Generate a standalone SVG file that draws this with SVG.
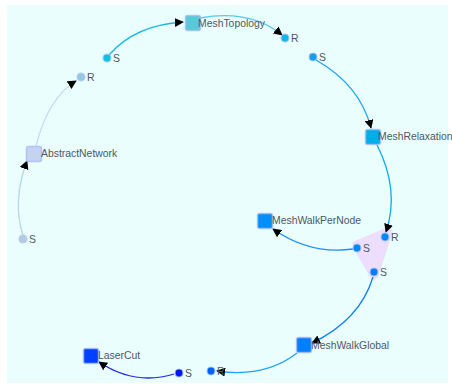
<svg xmlns="http://www.w3.org/2000/svg" width="452" height="387" viewBox="0 0 452 387">
<defs>
<marker id="arr" viewBox="0 0 10 10" refX="9" refY="5" markerWidth="9" markerHeight="9" markerUnits="userSpaceOnUse" orient="auto">
<path d="M0,0 L10,5 L0,10 z" fill="#000"/>
</marker>
<style>
.bg{fill:#eafefe}
.e{fill:none;stroke-width:1.3;marker-end:url(#arr)}
.n{stroke:#a8bcf4;stroke-width:1.5;stroke-opacity:0.8}
.p{stroke:#b8c8f4;stroke-width:1.2;stroke-opacity:0.8}
text{font-family:"Liberation Sans",Arial,sans-serif;font-size:10.4px;fill:#505664}
</style>
</defs>
<rect class="bg" x="7" y="5" width="441" height="378"/>
<g id="group-1">
<path d="M357,245 L388,232 L374,275 Z" fill="#ecdefc" stroke="#ecdefc" stroke-width="9" stroke-linejoin="round"/>
</g>
<g id="connectors">
<path class="e" stroke="#b4d6f0" d="M23,236 Q12,200 27,161"/>
<path class="e" stroke="#c4daf8" d="M36,146 Q48,98 76,81"/>
<path class="e" stroke="#18bce2" d="M109,55 Q135,25 183,22"/>
<path class="e" stroke="#58cae8" d="M200,18 Q250,9 282,35"/>
<path class="e" stroke="#10a8f0" d="M316,60 Q360,85 371,128"/>
<path class="e" stroke="#10a8f0" d="M377,145 Q400,190 386,232"/>
<path class="e" stroke="#1890f8" d="M353,249 Q310,255 273,229"/>
<path class="e" stroke="#1080f8" d="M373,277 Q360,320 312,343"/>
<path class="e" stroke="#20a0ff" d="M297,353 Q265,378 217,371"/>
<path class="e" stroke="#2424e8" d="M174,374 Q135,386 99,362"/>
</g>
<g id="MeshTopology">
<rect class="n" x="185.5" y="15.5" width="15" height="15" rx="2" fill="#5ac8d8"/>
<text x="198" y="27">MeshTopology</text>
</g>
<g id="AbstractNetwork">
<rect class="n" x="26.5" y="146.5" width="15" height="15" rx="2" fill="#c4d4f0" stroke="#c8d8f8"/>
<text x="41" y="157">AbstractNetwork</text>
</g>
<g id="MeshRelaxation">
<rect class="n" x="365.5" y="129.5" width="15" height="15" rx="2" fill="#00aee8"/>
<text x="378" y="140">MeshRelaxation</text>
</g>
<g id="MeshWalkPerNode">
<rect class="n" x="257.5" y="213.5" width="15" height="15" rx="2" fill="#0090f8"/>
<text x="272" y="224">MeshWalkPerNode</text>
</g>
<g id="MeshWalkGlobal">
<rect class="n" x="296.5" y="337.5" width="15" height="15" rx="2" fill="#0080ff"/>
<text x="311" y="349">MeshWalkGlobal</text>
</g>
<g id="LaserCut">
<rect class="n" x="83.5" y="348.5" width="15" height="15" rx="2" fill="#0040ff"/>
<text x="98" y="359">LaserCut</text>
</g>
<g id="port-S-1"><circle class="p" cx="107" cy="58" r="4" fill="#10c0e0"/><text x="113" y="62">S</text></g>
<g id="port-R-1"><circle class="p" cx="285" cy="38" r="4" fill="#10b8e8"/><text x="291" y="42">R</text></g>
<g id="port-S-2"><circle class="p" cx="313" cy="57" r="4" fill="#10a0f0"/><text x="319" y="61">S</text></g>
<g id="port-R-2"><circle class="p" cx="81" cy="77" r="4" fill="#92c8e0"/><text x="87" y="81">R</text></g>
<g id="port-S-3"><circle class="p" cx="23" cy="239" r="4" fill="#b0cce0"/><text x="29" y="243">S</text></g>
<g id="port-R-3"><circle class="p" cx="385" cy="237" r="4" fill="#0088f8"/><text x="391" y="241">R</text></g>
<g id="port-S-4"><circle class="p" cx="357" cy="248" r="4" fill="#0088f8"/><text x="363" y="252">S</text></g>
<g id="port-S-5"><circle class="p" cx="374" cy="272" r="4" fill="#0080f8"/><text x="380" y="276">S</text></g>
<g id="port-R-4"><circle class="p" cx="211" cy="371" r="4" fill="#0060f8"/><text x="217" y="375">R</text></g>
<g id="port-S-6"><circle class="p" cx="179" cy="373" r="4" fill="#0018f0"/><text x="185" y="377">S</text></g>
</svg>
